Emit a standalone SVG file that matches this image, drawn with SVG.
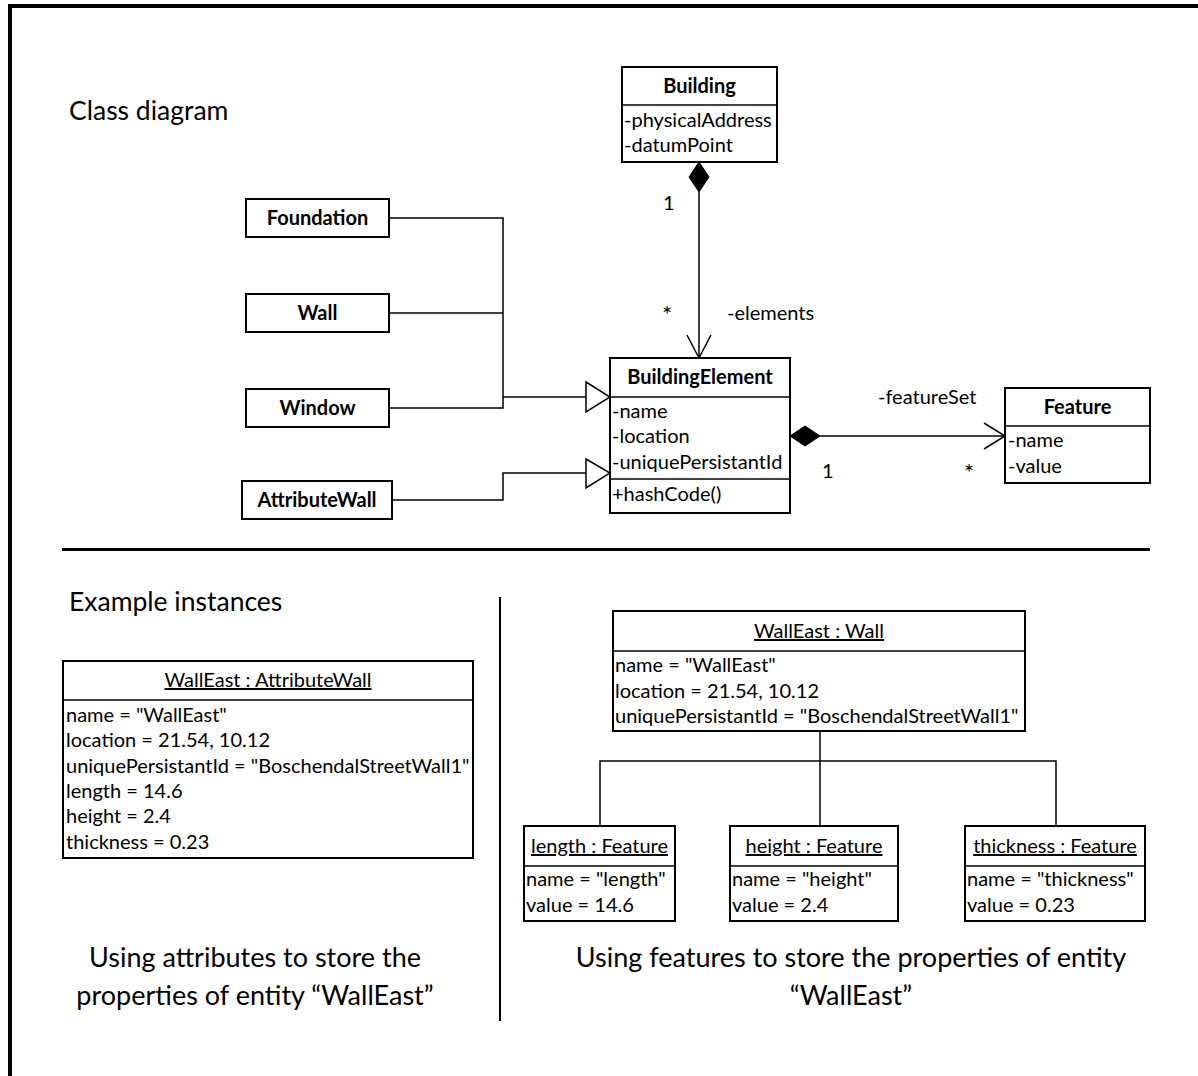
<svg xmlns="http://www.w3.org/2000/svg" width="1198" height="1076" viewBox="0 0 1198 1076">
  <style>
    text { font-family: Lato, "Liberation Sans", sans-serif; fill: #000; }
    .t { font-size: 20px; }
    .star { font-size: 24px; }
    .b { font-size: 20px; font-weight: bold; text-anchor: middle; }
    .u { font-size: 20px; text-anchor: middle; text-decoration: underline; }
    .h { font-size: 26.5px; }
    .cap { font-size: 27px; text-anchor: middle; }
    .box { fill: #fff; stroke: #000; stroke-width: 2; }
    .ln { fill: none; stroke: #000; stroke-width: 1.5; }
    .tri { fill: #fff; stroke: #000; stroke-width: 1.5; }
    .dia { fill: #000; stroke: #000; stroke-width: 1; }
  </style>

  <rect width="1198" height="1076" fill="#fff"/>

  <!-- page frame -->
  <line x1="8" y1="6" x2="1198" y2="6" stroke="#000" stroke-width="4"/>
  <line x1="10" y1="4" x2="10" y2="1076" stroke="#000" stroke-width="4"/>

  <!-- section rules -->
  <line x1="62" y1="549.5" x2="1150" y2="549.5" stroke="#000" stroke-width="3"/>
  <line x1="500" y1="597" x2="500" y2="1021" stroke="#000" stroke-width="2"/>

  <text class="h" x="69" y="120">Class diagram</text>
  <text class="h" x="69" y="611">Example instances</text>

  <!-- connectors -->
  <g id="connectors">
    <!-- Building composition of elements -->
    <polygon class="dia" points="699,162 709,177 699,192 689,177"/>
    <line class="ln" x1="699" y1="192" x2="699" y2="357"/>
    <polyline class="ln" points="687,335 699,358 711,335"/>
    <!-- generalization tree -->
    <polyline class="ln" points="389,218 503,218 503,408 389,408"/>
    <line class="ln" x1="389" y1="313" x2="503" y2="313"/>
    <line class="ln" x1="503" y1="397" x2="586" y2="397" stroke-width="2"/>
    <polygon class="tri" points="586,382 610,397 586,412"/>
    <polyline class="ln" points="392,500 503,500 503,473 586,473"/>
    <polygon class="tri" points="586,459 610,473 586,488"/>
    <!-- BuildingElement composition of features -->
    <polygon class="dia" points="790,436 805,426 820,436 805,446"/>
    <line class="ln" x1="820" y1="436" x2="1004" y2="436"/>
    <polyline class="ln" points="984,423 1005,436 984,449"/>
    <!-- instance links -->
    <line class="ln" x1="820" y1="731" x2="820" y2="826"/>
    <polyline class="ln" points="600,826 600,761 1056,761 1056,826"/>
  </g>

  <!-- association labels -->
  <text class="t" x="663" y="210">1</text>
  <text class="star" x="662" y="323">*</text>
  <text class="t" x="727" y="320">-elements</text>
  <text class="t" x="878" y="404">-featureSet</text>
  <text class="t" x="822" y="478">1</text>
  <text class="star" x="964" y="481">*</text>

  <g id="building">
    <rect class="box" x="622" y="67" width="155" height="95"/>
    <line class="ln" x1="622" y1="105" x2="777" y2="105"/>
    <text class="b" x="699.5" y="93">Building</text>
    <text class="t" x="624" y="127">-physicalAddress</text>
    <text class="t" x="624" y="152">-datumPoint</text>
  </g>

  <g id="foundation">
    <rect class="box" x="246" y="199" width="143" height="38"/>
    <text class="b" x="317.5" y="225">Foundation</text>
  </g>

  <g id="wall">
    <rect class="box" x="246" y="294" width="143" height="38"/>
    <text class="b" x="317.5" y="320">Wall</text>
  </g>

  <g id="window">
    <rect class="box" x="246" y="389" width="143" height="38"/>
    <text class="b" x="317.5" y="415">Window</text>
  </g>

  <g id="attribute-wall">
    <rect class="box" x="242" y="481" width="150" height="38"/>
    <text class="b" x="317" y="507">AttributeWall</text>
  </g>

  <g id="building-element">
    <rect class="box" x="610" y="358" width="180" height="155"/>
    <line class="ln" x1="610" y1="397" x2="790" y2="397"/>
    <line class="ln" x1="610" y1="479" x2="790" y2="479"/>
    <text class="b" x="700" y="384">BuildingElement</text>
    <text class="t" x="612" y="418">-name</text>
    <text class="t" x="612" y="443">-location</text>
    <text class="t" x="612" y="469">-uniquePersistantId</text>
    <text class="t" x="612" y="501">+hashCode()</text>
  </g>

  <g id="feature">
    <rect class="box" x="1005" y="388" width="145" height="95"/>
    <line class="ln" x1="1005" y1="426" x2="1150" y2="426"/>
    <text class="b" x="1077.5" y="414">Feature</text>
    <text class="t" x="1008" y="447">-name</text>
    <text class="t" x="1008" y="473">-value</text>
  </g>

  <g id="walleast-attributewall">
    <rect class="box" x="63" y="661" width="410" height="197"/>
    <line class="ln" x1="63" y1="700" x2="473" y2="700"/>
    <text class="u" x="268" y="687">WallEast : AttributeWall</text>
    <text class="t" x="66" y="722">name = "WallEast"</text>
    <text class="t" x="66" y="747">location = 21.54, 10.12</text>
    <text class="t" x="66" y="773">uniquePersistantId = "BoschendalStreetWall1"</text>
    <text class="t" x="66" y="798">length = 14.6</text>
    <text class="t" x="66" y="823">height = 2.4</text>
    <text class="t" x="66" y="849">thickness = 0.23</text>
  </g>

  <g id="walleast-wall">
    <rect class="box" x="613" y="611" width="412" height="120"/>
    <line class="ln" x1="613" y1="651" x2="1025" y2="651"/>
    <text class="u" x="819" y="638">WallEast : Wall</text>
    <text class="t" x="615" y="672">name = "WallEast"</text>
    <text class="t" x="615" y="698">location = 21.54, 10.12</text>
    <text class="t" x="615" y="723">uniquePersistantId = "BoschendalStreetWall1"</text>
  </g>

  <g id="length-feature">
    <rect class="box" x="524" y="826" width="151" height="95"/>
    <line class="ln" x1="524" y1="866" x2="675" y2="866"/>
    <text class="u" x="599.5" y="853">length : Feature</text>
    <text class="t" x="526" y="886">name = "length"</text>
    <text class="t" x="526" y="912">value = 14.6</text>
  </g>

  <g id="height-feature">
    <rect class="box" x="730" y="826" width="168" height="95"/>
    <line class="ln" x1="730" y1="866" x2="898" y2="866"/>
    <text class="u" x="814" y="853">height : Feature</text>
    <text class="t" x="732" y="886">name = "height"</text>
    <text class="t" x="732" y="912">value = 2.4</text>
  </g>

  <g id="thickness-feature">
    <rect class="box" x="965" y="826" width="180" height="95"/>
    <line class="ln" x1="965" y1="866" x2="1145" y2="866"/>
    <text class="u" x="1055" y="853">thickness : Feature</text>
    <text class="t" x="967" y="886">name = "thickness"</text>
    <text class="t" x="967" y="912">value = 0.23</text>
  </g>

  <!-- captions -->
  <text class="cap" x="255" y="967">Using attributes to store the</text>
  <text class="cap" x="255" y="1005">properties of entity “WallEast”</text>
  <text class="cap" x="851" y="967">Using features to store the properties of entity</text>
  <text class="cap" x="851" y="1005">“WallEast”</text>
</svg>
